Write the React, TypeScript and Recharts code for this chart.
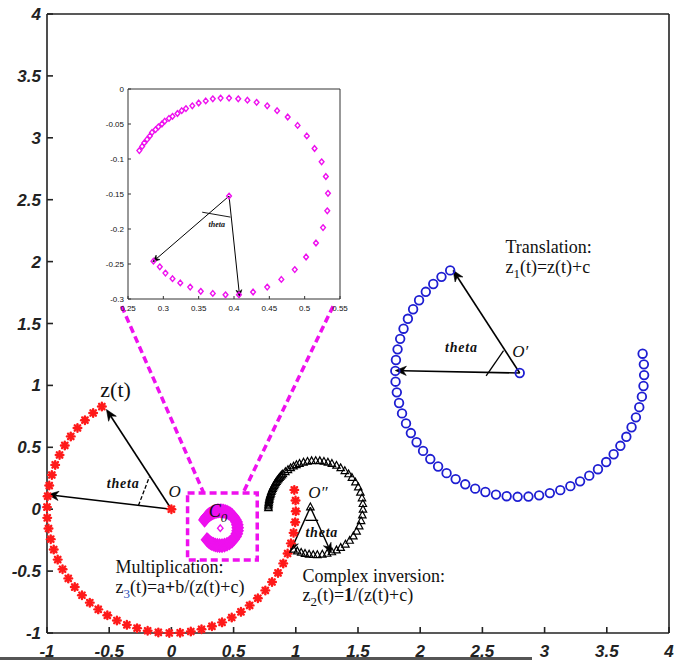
import React from 'react';
import { ScatterChart, Scatter, XAxis, YAxis, ReferenceLine, ReferenceArea, ReferenceDot } from 'recharts';

// ---------- data ----------
const mainTicks = [-1, -0.5, 0, 0.5, 1, 1.5, 2, 2.5, 3, 3.5, 4];
const insetXTicks = [0.25, 0.3, 0.35, 0.4, 0.45, 0.5, 0.55];
const insetYTicks = [0, -0.05, -0.1, -0.15, -0.2, -0.25, -0.3];

// z(t): red stars
const redX = [-0.559, -0.629, -0.695, -0.755, -0.809, -0.857, -0.899, -0.934, -0.961, -0.982, -0.995, -1.0, -0.998, -0.988, -0.97, -0.946, -0.914, -0.875, -0.829, -0.777, -0.719, -0.656, -0.588, -0.515, -0.438, -0.358, -0.276, -0.191, -0.105, -0.017, 0.07, 0.156, 0.242, 0.326, 0.407, 0.485, 0.559, 0.629, 0.695, 0.755, 0.809, 0.857, 0.899, 0.934, 0.961, 0.982, 0.995, 1.0, 0.998, 0.988];
const redY = [0.829, 0.777, 0.719, 0.656, 0.588, 0.515, 0.438, 0.358, 0.276, 0.191, 0.105, 0.017, -0.07, -0.156, -0.242, -0.326, -0.407, -0.485, -0.559, -0.629, -0.695, -0.755, -0.809, -0.857, -0.899, -0.934, -0.961, -0.982, -0.995, -1.0, -0.998, -0.988, -0.97, -0.946, -0.914, -0.875, -0.829, -0.777, -0.719, -0.656, -0.588, -0.515, -0.438, -0.358, -0.276, -0.191, -0.105, -0.017, 0.07, 0.156];

// z1(t): blue circles (translation)
const blueX = [2.241, 2.171, 2.105, 2.045, 1.991, 1.943, 1.901, 1.866, 1.839, 1.818, 1.805, 1.8, 1.802, 1.812, 1.83, 1.854, 1.886, 1.925, 1.971, 2.023, 2.081, 2.144, 2.212, 2.285, 2.362, 2.442, 2.524, 2.609, 2.695, 2.783, 2.87, 2.956, 3.042, 3.126, 3.207, 3.285, 3.359, 3.429, 3.495, 3.555, 3.609, 3.657, 3.699, 3.734, 3.761, 3.782, 3.795, 3.8, 3.798, 3.788];
const blueY = [1.929, 1.877, 1.819, 1.756, 1.688, 1.615, 1.538, 1.458, 1.376, 1.291, 1.205, 1.117, 1.03, 0.944, 0.858, 0.774, 0.693, 0.615, 0.541, 0.471, 0.405, 0.345, 0.291, 0.243, 0.201, 0.166, 0.139, 0.118, 0.105, 0.1, 0.102, 0.112, 0.13, 0.154, 0.186, 0.225, 0.271, 0.323, 0.381, 0.444, 0.512, 0.585, 0.662, 0.742, 0.824, 0.909, 0.995, 1.083, 1.17, 1.256];

// z2(t): black triangles (complex inversion)
const blackX = [0.78, 0.78, 0.781, 0.782, 0.784, 0.786, 0.788, 0.791, 0.795, 0.799, 0.803, 0.808, 0.813, 0.818, 0.825, 0.831, 0.838, 0.845, 0.853, 0.861, 0.869, 0.878, 0.887, 0.896, 0.916, 0.937, 0.959, 0.982, 1.005, 1.03, 1.062, 1.094, 1.127, 1.16, 1.193, 1.226, 1.258, 1.29, 1.327, 1.361, 1.394, 1.424, 1.451, 1.479, 1.502, 1.519, 1.532, 1.539, 1.54, 1.535, 1.525, 1.51, 1.489, 1.463, 1.433, 1.399, 1.361, 1.327, 1.29, 1.252, 1.213, 1.173, 1.14, 1.107, 1.074, 1.043, 1.012, 0.982];
const blackY = [0.01, 0.023, 0.037, 0.05, 0.063, 0.076, 0.089, 0.102, 0.115, 0.127, 0.14, 0.152, 0.165, 0.177, 0.188, 0.2, 0.211, 0.222, 0.233, 0.244, 0.254, 0.264, 0.274, 0.283, 0.301, 0.317, 0.332, 0.346, 0.357, 0.367, 0.377, 0.384, 0.389, 0.39, 0.389, 0.384, 0.377, 0.367, 0.352, 0.332, 0.309, 0.283, 0.254, 0.217, 0.177, 0.134, 0.089, 0.043, -0.003, -0.049, -0.095, -0.138, -0.18, -0.219, -0.254, -0.285, -0.312, -0.332, -0.347, -0.359, -0.366, -0.37, -0.369, -0.366, -0.36, -0.351, -0.34, -0.326];

// z3(t): magenta diamonds (multiplication)
const magX = [0.266, 0.27, 0.273, 0.277, 0.281, 0.284, 0.289, 0.293, 0.298, 0.302, 0.308, 0.313, 0.32, 0.326, 0.332, 0.341, 0.35, 0.36, 0.37, 0.381, 0.393, 0.406, 0.419, 0.432, 0.447, 0.461, 0.476, 0.49, 0.503, 0.514, 0.524, 0.53, 0.533, 0.532, 0.526, 0.516, 0.502, 0.486, 0.467, 0.447, 0.427, 0.407, 0.388, 0.37, 0.353, 0.338, 0.324, 0.313, 0.303, 0.295, 0.286];
const magY = [-0.088, -0.082, -0.077, -0.072, -0.067, -0.062, -0.058, -0.054, -0.05, -0.046, -0.042, -0.039, -0.035, -0.031, -0.028, -0.024, -0.02, -0.017, -0.014, -0.013, -0.013, -0.014, -0.016, -0.019, -0.024, -0.031, -0.04, -0.052, -0.067, -0.085, -0.104, -0.125, -0.149, -0.174, -0.198, -0.22, -0.24, -0.258, -0.272, -0.283, -0.29, -0.294, -0.294, -0.292, -0.289, -0.283, -0.277, -0.271, -0.263, -0.254, -0.246];

const redCenter = [{ x: 0, y: 0 }];
const blueCenter = [{ x: 2.8, y: 1.1 }];
const blackCenter = [{ x: 1.117, y: 0.016 }];
const magCenter = [{ x: 0.393, y: -0.153 }];

const zip = (xs: number[], ys: number[]) => xs.map((x, i) => ({ x, y: ys[i] }));
const redPts = zip(redX, redY);
const bluePts = zip(blueX, blueY);
const blackPts = zip(blackX, blackY);
const magPts = zip(magX, magY);

// ---------- styles ----------
const MAG = '#ee10ee';
const RED = '#ff1a1a';
const BLUE = '#1e1ed2';
const SERIF = 'Liberation Serif, Times New Roman, serif';
const SANS = 'Liberation Sans, Arial, sans-serif';

const StarShape = (p: any) => {
  const { cx, cy } = p;
  const r = 3.8;
  const d = r * 0.72;
  return (
    <g stroke={RED} strokeWidth={2.4} strokeLinecap="round">
      <line x1={cx - r} y1={cy} x2={cx + r} y2={cy} />
      <line x1={cx} y1={cy - r} x2={cx} y2={cy + r} />
      <line x1={cx - d} y1={cy - d} x2={cx + d} y2={cy + d} />
      <line x1={cx - d} y1={cy + d} x2={cx + d} y2={cy - d} />
    </g>
  );
};
const CircleShape = (p: any) => <circle cx={p.cx} cy={p.cy} r={4.3} fill="none" stroke={BLUE} strokeWidth={1.8} />;
const TriShape = (p: any) => {
  const { cx, cy } = p;
  return <polygon points={`${cx},${cy - 4.2} ${cx - 3.7},${cy + 2.6} ${cx + 3.7},${cy + 2.6}`} fill="none" stroke="#000" strokeWidth={1.2} />;
};
const diamond = (s: number, sw: number, color: string) => (p: any) => {
  const { cx, cy } = p;
  return <path d={`M${cx},${cy - s}L${cx + s * 0.85},${cy}L${cx},${cy + s}L${cx - s * 0.85},${cy}Z`} fill="none" stroke={color} strokeWidth={sw} />;
};

const arrow = (head: number, sw: number) => (p: any) => {
  const { x1, y1, x2, y2 } = p;
  const dx = x2 - x1, dy = y2 - y1;
  const L = Math.hypot(dx, dy) || 1;
  const ux = dx / L, uy = dy / L;
  const bx = x2 - ux * head, by = y2 - uy * head;
  const nx = x2 - ux * head * 0.7, ny = y2 - uy * head * 0.7;
  const w = head * 0.42;
  return (
    <g>
      <line x1={x1} y1={y1} x2={nx} y2={ny} stroke="#000" strokeWidth={sw} />
      <polygon points={`${x2},${y2} ${bx - uy * w},${by + ux * w} ${nx},${ny} ${bx + uy * w},${by - ux * w}`} fill="#000" stroke="#000" strokeWidth={0.6} />
    </g>
  );
};

const txt = (content: React.ReactNode, props: any) => (p: any) => (
  <text x={p.cx} y={p.cy} {...props}>{content}</text>
);

const thetaStyle = { fontFamily: SERIF, fontStyle: 'italic', fontWeight: 'bold', fontSize: 14, fill: '#111', letterSpacing: 0.8 };
const labelStyle = { fontFamily: SERIF, fontSize: 18, fill: '#111' };

const mainTick = { fontFamily: SANS, fontStyle: 'italic', fontWeight: 'bold', fontSize: 17, fill: '#222' };
const insetTick = { fontFamily: SANS, fontSize: 8, fill: '#111' };
const axisStroke = { stroke: '#222', strokeWidth: 1.6 };
const insetStroke = { stroke: '#333', strokeWidth: 1 };

function MainChart() {
  return (
    <ScatterChart width={678} height={660} margin={{ top: 13, right: 8, left: 0, bottom: 0 }}>
      <XAxis type="number" dataKey="x" domain={[-1, 4]} ticks={mainTicks} interval={0} height={27}
        tickSize={-6} tickMargin={18} tick={mainTick} axisLine={axisStroke} tickLine={axisStroke} />
      <XAxis xAxisId="top" orientation="top" type="number" domain={[-1, 4]} ticks={mainTicks} interval={0} height={1}
        tickSize={-6} tick={false} axisLine={axisStroke} tickLine={axisStroke} />
      <YAxis type="number" dataKey="y" domain={[-1, 4]} ticks={mainTicks} interval={0} width={47}
        tickSize={-6} tickMargin={12} tick={mainTick} axisLine={axisStroke} tickLine={axisStroke} />
      <YAxis yAxisId="right" orientation="right" type="number" domain={[-1, 4]} ticks={mainTicks} interval={0} width={1}
        tickSize={-6} tick={false} axisLine={axisStroke} tickLine={axisStroke} />

      {/* zoom box and connectors */}
      <ReferenceArea x1={0.13} x2={0.69} y1={-0.41} y2={0.13} fill="none" fillOpacity={0} stroke={MAG} strokeWidth={3.5} strokeDasharray="7 4" />
      <ReferenceLine segment={[{ x: -0.4, y: 1.64 }, { x: 0.257, y: 0.137 }]} stroke={MAG} strokeWidth={3.5} strokeDasharray="7 4" />
      <ReferenceLine segment={[{ x: 1.3, y: 1.64 }, { x: 0.579, y: 0.137 }]} stroke={MAG} strokeWidth={3.5} strokeDasharray="7 4" />

      <Scatter data={redPts} shape={StarShape} isAnimationActive={false} />
      <Scatter data={redCenter} shape={StarShape} isAnimationActive={false} />
      <Scatter data={bluePts} shape={CircleShape} isAnimationActive={false} />
      <Scatter data={blueCenter} shape={CircleShape} isAnimationActive={false} />
      <Scatter data={blackPts} shape={TriShape} isAnimationActive={false} />
      <Scatter data={blackCenter} shape={TriShape} isAnimationActive={false} />
      <Scatter data={magPts} shape={diamond(4.8, 3.6, MAG)} isAnimationActive={false} />
      <Scatter data={magCenter} shape={diamond(3.2, 1.4, MAG)} isAnimationActive={false} />

      {/* arrows */}
      <ReferenceLine segment={[{ x: 0, y: 0 }, { x: -0.522, y: 0.805 }]} shape={arrow(11, 1.6)} />
      <ReferenceLine segment={[{ x: 0, y: 0 }, { x: -0.995, y: 0.118 }]} shape={arrow(11, 1.6)} />
      <ReferenceLine segment={[{ x: -0.265, y: 0.03 }, { x: -0.177, y: 0.26 }]} stroke="#000" strokeWidth={1.3} strokeDasharray="4 2" />

      <ReferenceLine segment={[{ x: 2.8, y: 1.1 }, { x: 2.264, y: 1.93 }]} shape={arrow(11, 1.6)} />
      <ReferenceLine segment={[{ x: 2.8, y: 1.1 }, { x: 1.8, y: 1.12 }]} shape={arrow(11, 1.6)} />
      <ReferenceLine segment={[{ x: 2.53, y: 1.077 }, { x: 2.67, y: 1.28 }]} stroke="#000" strokeWidth={1.3} />

      <ReferenceLine segment={[{ x: 1.117, y: 0.016 }, { x: 0.957, y: -0.34 }]} shape={arrow(10, 1.4)} />
      <ReferenceLine segment={[{ x: 1.117, y: 0.016 }, { x: 1.286, y: -0.355 }]} shape={arrow(10, 1.4)} />
      <ReferenceLine segment={[{ x: 1.077, y: -0.09 }, { x: 1.18, y: -0.09 }]} stroke="#000" strokeWidth={1.3} />

      {/* text annotations */}
      <ReferenceDot x={2.685} y={2.068} r={0} shape={txt('Translation:', labelStyle)} />
      <ReferenceDot x={2.685} y={1.906} r={0} shape={txt(<>z<tspan fontSize={13} dy={5}>1</tspan><tspan dy={-5}>(t)=z(t)+c</tspan></>, labelStyle)} />
      <ReferenceDot x={-0.45} y={-0.517} r={0} shape={txt('Multiplication:', labelStyle)} />
      <ReferenceDot x={-0.45} y={-0.679} r={0} shape={txt(<>z<tspan fontSize={13} dy={5} fill="#2a4fb8">3</tspan><tspan dy={-5}>(t)=a</tspan><tspan fontWeight="bold">+</tspan>b/(z(t)+c)</>, labelStyle)} />
      <ReferenceDot x={1.053} y={-0.59} r={0} shape={txt('Complex inversion:', labelStyle)} />
      <ReferenceDot x={1.053} y={-0.743} r={0} shape={txt(<>z<tspan fontSize={13} dy={5}>2</tspan><tspan dy={-5}>(t)=</tspan><tspan fontWeight="bold">1</tspan>/(z(t)+c)</>, labelStyle)} />
      <ReferenceDot x={-0.571} y={0.905} r={0} shape={txt('z(t)', { fontFamily: SERIF, fontSize: 22, fill: '#111' })} />

      <ReferenceDot x={-0.52} y={0.17} r={0} shape={txt('theta', thetaStyle)} />
      <ReferenceDot x={2.2} y={1.268} r={0} shape={txt('theta', thetaStyle)} />
      <ReferenceDot x={1.077} y={-0.226} r={0} shape={txt('theta', thetaStyle)} />

      <ReferenceDot x={-0.024} y={0.097} r={0} shape={txt('O', { fontFamily: SERIF, fontStyle: 'italic', fontSize: 17, fill: '#111' })} />
      <ReferenceDot x={2.74} y={1.228} r={0} shape={txt('O\u2032', { fontFamily: SERIF, fontStyle: 'italic', fontSize: 17, fill: '#111' })} />
      <ReferenceDot x={1.1} y={0.089} r={0} shape={txt('O\u2033', { fontFamily: SERIF, fontStyle: 'italic', fontSize: 17, fill: '#111' })} />
      <ReferenceDot x={0.3} y={-0.065} r={0} shape={txt(<>C<tspan fontSize={13} dy={5}>0</tspan></>, { fontFamily: SERIF, fontStyle: 'italic', fontSize: 18, fill: '#111' })} />
    </ScatterChart>
  );
}

function InsetChart() {
  return (
    <ScatterChart width={250} height={240} margin={{ top: 10, right: 7, left: 0, bottom: 0 }}>
      <XAxis type="number" dataKey="x" domain={[0.25, 0.55]} ticks={insetXTicks} interval={0} height={19}
        tickSize={-3} tickMargin={9} tick={insetTick} axisLine={insetStroke} tickLine={insetStroke} />
      <XAxis xAxisId="top" orientation="top" type="number" domain={[0.25, 0.55]} ticks={insetXTicks} interval={0} height={1}
        tickSize={-3} tick={false} axisLine={insetStroke} tickLine={insetStroke} />
      <YAxis type="number" dataKey="y" domain={[-0.3, 0]} ticks={insetYTicks} interval={0} width={30}
        tickSize={-3} tickMargin={7} tick={insetTick} axisLine={insetStroke} tickLine={insetStroke} />
      <YAxis yAxisId="right" orientation="right" type="number" domain={[-0.3, 0]} ticks={insetYTicks} interval={0} width={1}
        tickSize={-3} tick={false} axisLine={insetStroke} tickLine={insetStroke} />
      <Scatter data={magPts} shape={diamond(2.8, 1.4, MAG)} isAnimationActive={false} />
      <Scatter data={magCenter} shape={diamond(2.8, 1.4, MAG)} isAnimationActive={false} />
      <ReferenceLine segment={[{ x: 0.393, y: -0.153 }, { x: 0.285, y: -0.247 }]} shape={arrow(7, 1)} />
      <ReferenceLine segment={[{ x: 0.393, y: -0.153 }, { x: 0.408, y: -0.297 }]} shape={arrow(7, 1)} />
      <ReferenceLine segment={[{ x: 0.355, y: -0.176 }, { x: 0.395, y: -0.183 }]} stroke="#000" strokeWidth={0.9} />
      <ReferenceDot x={0.364} y={-0.197} r={0} shape={txt('theta', { fontFamily: SERIF, fontStyle: 'italic', fontWeight: 'bold', fontSize: 8, fill: '#111' })} />
    </ScatterChart>
  );
}

export default function App() {
  return (
    <div style={{ position: 'fixed', left: 0, top: 0, width: 678, height: 660, background: '#fff', overflow: 'hidden' }}>
      <div style={{ position: 'absolute', left: 0, top: 0 }}>
        <MainChart />
      </div>
      <div style={{ position: 'absolute', left: 98, top: 78 }}>
        <InsetChart />
      </div>
      <div style={{ position: 'absolute', left: 0, top: 657, width: 532, height: 3, background: '#555' }} />
    </div>
  );
}
